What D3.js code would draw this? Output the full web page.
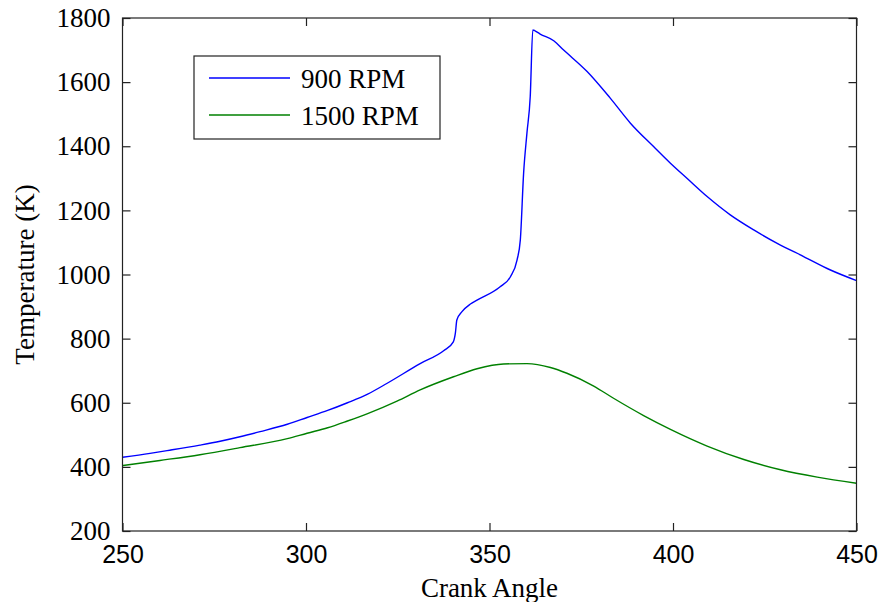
<!DOCTYPE html>
<html>
<head>
<meta charset="utf-8">
<script src="https://cdn.jsdelivr.net/npm/d3@7"></script>
<style>
  body { margin: 0; background: #fff; }
  svg { display: block; }
  .yax text { font-family: 'Liberation Serif', 'Times New Roman', serif; font-size: 27px; }
  .xax text { font-family: 'Liberation Sans', Arial, sans-serif; font-size: 25px; }
</style>
</head>
<body>
<div id="plot"></div>
<script>
// crank angle / temperature readings, 900 RPM
var angle900 = [250, 257.5, 262.9, 271.1, 276.6, 282, 287.5, 294.9, 300.3, 305.9, 311.3, 316.8, 322, 331.1, 337.5, 340.1, 340.7, 341.1, 342.5, 344.8, 346.6, 352.9, 355.7, 357.5, 358.4, 359.3, 360.2, 361.1, 361.8, 362.4, 363.8, 367.5, 370.2, 376.6, 382.9, 388.4, 394.7, 399.3, 403.8, 409.3, 415.6, 422, 428.4, 435.6, 442.9, 450];
var temp900 = [430, 442, 452, 468, 480, 494, 510, 533, 554, 576, 600, 627, 660, 722, 762, 789, 817, 858, 884, 908, 920, 962, 993, 1045, 1108, 1317, 1441, 1555, 1763, 1760, 1750, 1729, 1700, 1633, 1550, 1472, 1399, 1347, 1300, 1243, 1186, 1139, 1097, 1056, 1014, 981];

// 1500 RPM
var angle1500 = [250, 260.2, 271.1, 282, 294.9, 300.3, 305.9, 311.3, 316.8, 324.8, 331.1, 340.2, 346.6, 353.8, 360.2, 366.6, 371.1, 378.4, 383.8, 392, 399.3, 409.3, 419.3, 429.3, 439.3, 450];
var temp1500 = [404, 420, 438, 460, 488, 505, 522, 543, 566, 605, 640, 681, 706, 721, 722, 710, 692, 652, 614, 560, 517, 465, 423, 391, 368, 349];

var seriesNames = ["900 RPM", "1500 RPM"];
var seriesColors = ["#0000ff", "#008000"];
var xTicks = [250, 300, 350, 400, 450];
var yTicks = [200, 400, 600, 800, 1000, 1200, 1400, 1600, 1800];

var width = 882, height = 602;
var marginLeft = 122.5, marginRight = 25.5, marginTop = 18, marginBottom = 71;

var series = [
  {name: seriesNames[0], color: seriesColors[0], data: angle900.map((a, i) => [a, temp900[i]])},
  {name: seriesNames[1], color: seriesColors[1], data: angle1500.map((a, i) => [a, temp1500[i]])}
];

var x = d3.scaleLinear().domain([250, 450]).range([marginLeft, width - marginRight]);
var y = d3.scaleLinear().domain([200, 1800]).range([height - marginBottom, marginTop]);

var svg = d3.select("#plot").append("svg")
  .attr("width", width)
  .attr("height", height)
  .attr("viewBox", [0, 0, width, height]);

// curves
var line = d3.line()
  .curve(d3.curveMonotoneX)
  .x(d => x(d[0]))
  .y(d => y(d[1]));

svg.append("g")
  .selectAll("path")
  .data(series)
  .join("path")
  .attr("fill", "none")
  .attr("stroke", d => d.color)
  .attr("stroke-width", 1.4)
  .attr("d", d => line(d.data));

// axes, ticks pointing inward on all four sides
var serif = "'Liberation Serif', 'Times New Roman', serif";

svg.append("g")
  .attr("class", "yax")
  .attr("transform", `translate(${marginLeft},0)`)
  .call(d3.axisLeft(y).tickValues(yTicks).tickFormat(d3.format("d")).tickSize(-8).tickSizeOuter(0).tickPadding(12))
  .attr("font-family", null).attr("font-size", null)
  .call(g => g.selectAll("text").attr("fill", "#000"));

svg.append("g")
  .attr("transform", `translate(${width - marginRight},0)`)
  .call(d3.axisRight(y).tickValues(yTicks).tickSize(-8).tickSizeOuter(0).tickFormat(""));

svg.append("g")
  .attr("class", "xax")
  .attr("transform", `translate(0,${height - marginBottom})`)
  .call(d3.axisBottom(x).tickValues(xTicks).tickFormat(d3.format("d")).tickSize(-8).tickSizeOuter(0).tickPadding(14))
  .attr("font-family", null).attr("font-size", null)
  .call(g => g.selectAll("text").attr("fill", "#000"));

svg.append("g")
  .attr("transform", `translate(0,${marginTop})`)
  .call(d3.axisTop(x).tickValues(xTicks).tickSize(-8).tickSizeOuter(0).tickFormat(""));

svg.selectAll(".domain").remove();
svg.selectAll(".tick line").attr("stroke", "#222").attr("stroke-width", 1.2);

svg.append("rect")
  .attr("x", marginLeft)
  .attr("y", marginTop)
  .attr("width", width - marginLeft - marginRight)
  .attr("height", height - marginTop - marginBottom)
  .attr("fill", "none")
  .attr("stroke", "#222")
  .attr("stroke-width", 1.2);

// axis labels
svg.append("text")
  .attr("x", (marginLeft + width - marginRight) / 2)
  .attr("y", 597)
  .attr("text-anchor", "middle")
  .attr("font-family", serif)
  .attr("font-size", 27)
  .text("Crank Angle");

svg.append("text")
  .attr("transform", `translate(34,${(marginTop + height - marginBottom) / 2}) rotate(-90)`)
  .attr("text-anchor", "middle")
  .attr("font-family", serif)
  .attr("font-size", 27)
  .text("Temperature (K)");

// legend
var legend = svg.append("g").attr("transform", "translate(194,56)");
legend.append("rect")
  .attr("width", 246)
  .attr("height", 83)
  .attr("fill", "#fff")
  .attr("stroke", "#222")
  .attr("stroke-width", 1.2);

var item = legend.selectAll("g.item")
  .data(series)
  .join("g")
  .attr("class", "item")
  .attr("transform", (d, i) => `translate(0,${22 + i * 37})`);

item.append("line")
  .attr("x1", 15).attr("x2", 96)
  .attr("stroke", d => d.color)
  .attr("stroke-width", 1.4);

item.append("text")
  .attr("x", 107)
  .attr("y", 10)
  .attr("font-family", serif)
  .attr("font-size", 27)
  .text(d => d.name);
</script>
</body>
</html>
